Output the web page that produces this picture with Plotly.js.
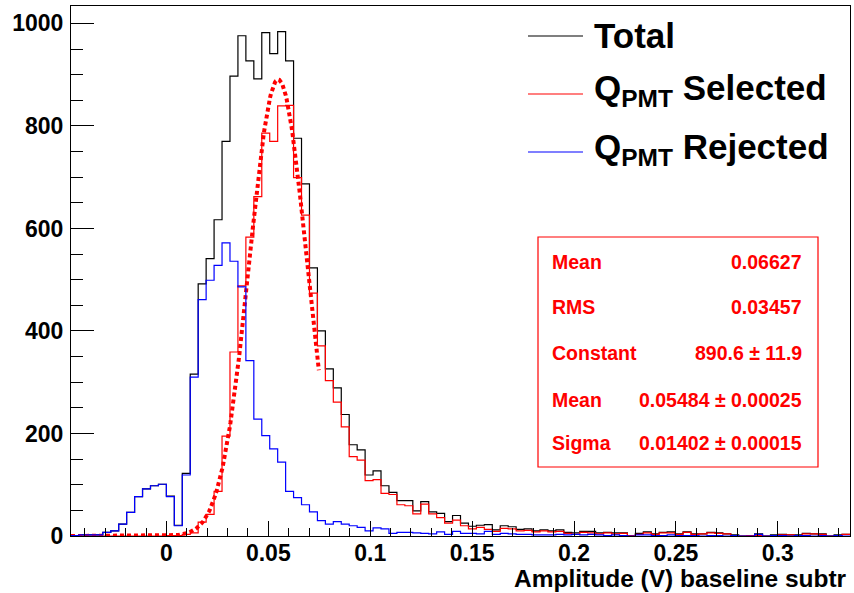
<!DOCTYPE html>
<html>
<head>
<meta charset="utf-8">
<script src="https://cdn.plot.ly/plotly-3.0.1.min.js"></script>
<style>
  html, body { margin: 0; padding: 0; background: #fff; }
  #chart { width: 854px; height: 593px; }
</style>
</head>
<body>
<div id="chart"></div>
<script>
// ---- Data ----
const binLow = -0.0468;     // lower edge of first bin
const binWidth = 0.0039;    // bin width
const binCount = 98;

const total = [
  1, 2, 2, 2, 7, 10, 23, 46, 77, 92,
  98, 101, 78, 21, 122, 316, 492, 541, 617, 770,
  897, 976, 927, 892, 982, 941, 984, 927, 776, 687,
  523, 400, 326, 289, 237, 178, 168, 119, 127, 98,
  85, 69, 69, 49, 67, 47, 44, 28, 40, 25,
  19, 21, 22, 12, 20, 18, 13, 14, 10, 12,
  10, 12, 7, 6, 9, 9, 6, 7, 6, 6,
  1, 5, 8, 4, 7, 8, 4, 8, 4, 4,
  7, 6, 4, 2, 0, 1, 4, 0, 2, 3,
  2, 2, 5, 4, 4, 0, 2, 3
];
const selected = [
  0, 0, 0, 0, 0, 0, 0, 0, 0, 0,
  0, 0, 1, 1, 3, 6, 27, 42, 87, 195,
  359, 488, 583, 662, 786, 770, 839, 840, 699, 626,
  474, 371, 303, 261, 213, 155, 148, 108, 110, 83,
  81, 61, 59, 43, 62, 43, 36, 25, 31, 20,
  14, 17, 13, 9, 15, 14, 10, 11, 8, 10,
  8, 9, 5, 3, 7, 6, 4, 6, 4, 5,
  1, 3, 6, 3, 6, 6, 3, 7, 3, 4,
  6, 5, 4, 1, 0, 1, 1, 0, 1, 2,
  2, 1, 4, 4, 3, 0, 1, 3
];
const rejected = [
  1, 2, 2, 2, 7, 10, 23, 46, 77, 92,
  98, 101, 77, 20, 119, 310, 461, 499, 528, 572,
  536, 486, 342, 228, 196, 170, 144, 87, 75, 61,
  47, 30, 23, 28, 23, 20, 17, 10, 16, 14,
  5, 7, 7, 6, 5, 4, 8, 3, 9, 5,
  5, 4, 9, 3, 5, 4, 3, 3, 2, 2,
  2, 3, 2, 3, 2, 3, 2, 1, 2, 1,
  0, 2, 2, 1, 1, 2, 1, 1, 1, 0,
  1, 1, 0, 1, 0, 0, 3, 0, 1, 1,
  0, 1, 1, 0, 1, 0, 1, 0
];

// Gaussian fit parameters (from the stats box)
const fitConstant = 890.6;
const fitMean = 0.05484;
const fitSigma = 0.01402;
const fitRange = [-0.0468, 0.0748];

const legendLabels = ["Total", "Q<sub>PMT</sub> Selected", "Q<sub>PMT</sub> Rejected"];
const statsNames = ["Mean", "RMS", "Constant", "Mean", "Sigma"];
const statsValues = ["0.06627", "0.03457", "890.6 \u00b1 11.9", "0.05484 \u00b1 0.00025", "0.01402 \u00b1 0.00015"];
const xTitle = "Amplitude (V) baseline subtr";

// ---- Build traces ----
const edges = [];
for (let k = 0; k <= binCount; k++) edges.push(binLow + k * binWidth);
const xMax = edges[edges.length - 1];

function stepTrace(vals, color) {
  return {
    x: edges,
    y: vals.concat([vals[vals.length - 1]]),
    type: 'scatter', mode: 'lines',
    line: { shape: 'hv', color: color, width: 1.2 },
    hoverinfo: 'skip', showlegend: false
  };
}

const fx = [], fy = [];
const nf = 300;
for (let i = 0; i <= nf; i++) {
  const x = fitRange[0] + (fitRange[1] - fitRange[0]) * i / nf;
  fx.push(x);
  const z = (x - fitMean) / fitSigma;
  fy.push(fitConstant * Math.exp(-0.5 * z * z));
}
const fitTrace = {
  x: fx, y: fy, type: 'scatter', mode: 'lines',
  line: { color: '#ff0000', width: 4, dash: '4px,3px' },
  hoverinfo: 'skip', showlegend: false
};

const data = [
  stepTrace(total, '#000000'),
  stepTrace(selected, '#ff0000'),
  fitTrace,
  stepTrace(rejected, '#0000ff')
];

// ---- Layout ----
const plotL = 71, plotR = 850, plotT = 6, plotB = 536;
const W = plotR - plotL, H = plotB - plotT;
const px = v => (v - plotL) / W;
const py = v => (plotB - v) / H;

const fontFam = '"Liberation Sans", Arial, Helvetica, sans-serif';

const annotations = [];
const shapes = [];

// legend
const legendColors = ['#000000', '#ff0000', '#0000ff'];
const legendY = [36, 94, 152];
const legendTextY = [36, 90, 149];
for (let i = 0; i < 3; i++) {
  shapes.push({ type: 'line', xref: 'paper', yref: 'paper',
    x0: px(528), x1: px(583), y0: py(legendY[i]), y1: py(legendY[i]),
    line: { color: legendColors[i], width: 1.2 } });
  annotations.push({ xref: 'paper', yref: 'paper', x: px(592), y: py(legendTextY[i]),
    xanchor: 'left', yanchor: 'middle', showarrow: false,
    text: legendLabels[i],
    font: { family: fontFam, size: 35, color: '#000', weight: 'bold' } });
}

// stats box
shapes.push({ type: 'rect', xref: 'paper', yref: 'paper',
  x0: px(538), x1: px(818), y0: py(467), y1: py(237),
  line: { color: '#ff0000', width: 1.2 }, fillcolor: 'rgba(255,255,255,1)' });
const statsY = [262, 307, 353, 400, 443];
for (let i = 0; i < statsNames.length; i++) {
  annotations.push({ xref: 'paper', yref: 'paper', x: px(550), y: py(statsY[i]),
    xanchor: 'left', yanchor: 'middle', showarrow: false, text: statsNames[i],
    font: { family: fontFam, size: 19.5, color: '#ff0000', weight: 'bold' } });
  annotations.push({ xref: 'paper', yref: 'paper', x: px(804), y: py(statsY[i]),
    xanchor: 'right', yanchor: 'middle', showarrow: false, text: statsValues[i],
    font: { family: fontFam, size: 19.5, color: '#ff0000', weight: 'bold' } });
}

// x title, right aligned at end of axis
annotations.push({ xref: 'paper', yref: 'paper', x: px(849), y: py(578),
  xanchor: 'right', yanchor: 'middle', showarrow: false, text: xTitle,
  font: { family: fontFam, size: 24.5, color: '#000', weight: 'bold' } });

const layout = {
  width: 854, height: 593,
  margin: { l: plotL, r: 854 - plotR, t: plotT, b: 593 - plotB, pad: 0 },
  paper_bgcolor: '#ffffff', plot_bgcolor: '#ffffff',
  showlegend: false,
  xaxis: {
    range: [binLow, xMax], showgrid: false, zeroline: false,
    showline: true, linecolor: '#000', linewidth: 1, mirror: true,
    ticks: 'inside', ticklen: 15, tickcolor: '#000', tickwidth: 1,
    tick0: 0, dtick: 0.05,
    minor: { dtick: 0.01, tick0: 0, ticks: 'inside', ticklen: 8, tickcolor: '#000', showgrid: false },
    tickfont: { family: fontFam, size: 23, color: '#000', weight: 'bold' },
    ticklabelstandoff: -4
  },
  yaxis: {
    range: [0, 1034], showgrid: false, zeroline: false,
    showline: true, linecolor: '#000', linewidth: 1, mirror: true,
    ticks: 'inside', ticklen: 23, tickcolor: '#000', tickwidth: 1,
    tick0: 0, dtick: 200,
    minor: { dtick: 50, tick0: 0, ticks: 'inside', ticklen: 12, tickcolor: '#000', showgrid: false },
    tickfont: { family: fontFam, size: 23, color: '#000', weight: 'bold' },
    ticklabelstandoff: 2
  },
  shapes: shapes,
  annotations: annotations
};

Plotly.newPlot('chart', data, layout, { staticPlot: true, displayModeBar: false });
</script>
</body>
</html>
